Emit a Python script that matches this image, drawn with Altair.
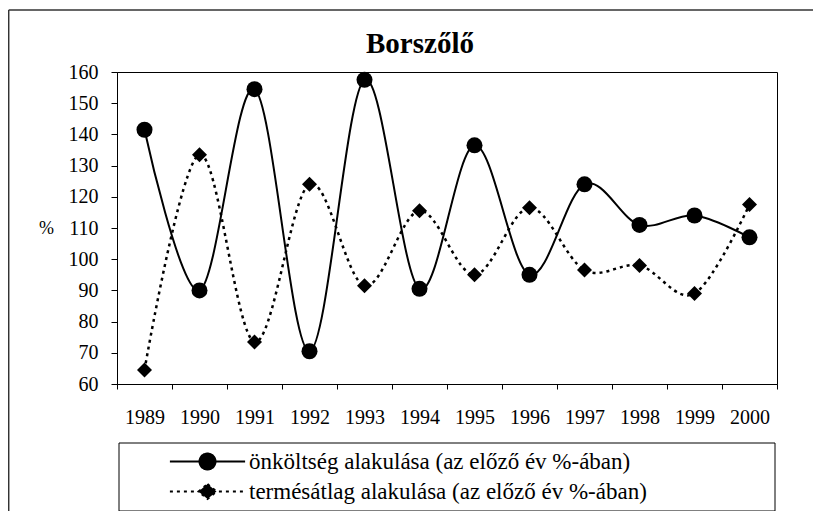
import altair as alt
import pandas as pd

years = ["1989", "1990", "1991", "1992", "1993", "1994", "1995", "1996", "1997", "1998", "1999", "2000"]
onkoltseg = [141.5, 90, 154.5, 70.5, 157.5, 90.5, 136.5, 95, 124, 111, 114, 107]
termesatlag = [64.5, 133.5, 73.5, 124, 91.5, 115.5, 95, 116.5, 96.5, 98, 89, 117.5]
series_names = [
    "önköltség alakulása (az előző év %-ában)",
    "termésátlag alakulása (az előző év %-ában)",
]
y_ticks = [60, 70, 80, 90, 100, 110, 120, 130, 140, 150, 160]

df = pd.DataFrame({
    "year": years * 2,
    "value": onkoltseg + termesatlag,
    "series": [series_names[0]] * len(years) + [series_names[1]] * len(years),
})
one = pd.DataFrame({"a": [0]})

FONT = "Liberation Serif, Times New Roman, serif"

x = alt.X(
    "year:O",
    bandPosition=0.5,
    scale=alt.Scale(type="band", paddingInner=0, paddingOuter=0),
    axis=alt.Axis(title=None, labelAngle=0, tickBand="extent", tickSize=5,
                  labelPadding=18, labelFont=FONT, labelFontSize=20),
)
y = alt.Y(
    "value:Q",
    scale=alt.Scale(domain=[60, 160], nice=False, zero=False),
    axis=alt.Axis(values=y_ticks, title="%", titleAngle=0, titleX=-71, titleY=156,
                  titleAlign="center", titleBaseline="middle", titleFont=FONT,
                  titleFontSize=18, titleFontWeight="normal", titleColor="black",
                  tickSize=6, labelPadding=13, labelFont=FONT, labelFontSize=20),
)

base = alt.Chart(df)
s1 = alt.datum.series == series_names[0]
s2 = alt.datum.series == series_names[1]

line1 = base.transform_filter(s1).mark_line(
    interpolate="cardinal", color="black", strokeWidth=2).encode(x=x, y=y)
line2 = base.transform_filter(s2).mark_line(
    interpolate="cardinal", color="black", strokeWidth=2.5, strokeDash=[3, 4]).encode(x=x, y=y)
pts1 = base.transform_filter(s1).mark_point(
    shape="circle", filled=True, color="black", size=256, opacity=1).encode(x=x, y=y)
pts2 = base.transform_filter(s2).mark_point(
    shape="diamond", filled=True, color="black", size=225, opacity=1).encode(x=x, y=y)

circle_path = "M-4.7,0L4.7,0M1,0A1,1,0,1,1,-1,0A1,1,0,1,1,1,0Z"
diamond_path = "M-4.7,0L4.7,0M0,-0.94L1.125,0L0,0.94L-1.125,0Z"

leg = alt.Legend(title=None, orient="none", legendX=79, legendY=378, direction="vertical",
                 symbolSize=256, symbolStrokeWidth=2,
                 labelFont=FONT, labelFontSize=23,
                 labelColor="black", labelOffset=30, rowPadding=5, padding=0, labelLimit=700)

legend_layer = base.transform_filter("false").mark_point(
    filled=False, fill="black", stroke="black", strokeWidth=2, opacity=1).encode(
    x=x, y=y,
    shape=alt.Shape("series:N", scale=alt.Scale(domain=series_names, range=[circle_path, diamond_path]), legend=leg),
    strokeDash=alt.StrokeDash("series:N", scale=alt.Scale(domain=series_names, range=[[1, 0], [3, 4]]), legend=leg),
)

legend_box = alt.Chart(one).mark_rect(fill="white", fillOpacity=0, stroke="black", strokeWidth=1).encode(
    x=alt.value(2), x2=alt.value(658), y=alt.value(371), y2=alt.value(439))
frame_top = alt.Chart(one).mark_rule(color="#333333", strokeWidth=1.5).encode(
    x=alt.value(-108.3), x2=alt.value(700), y=alt.value(-62))
frame_left = alt.Chart(one).mark_rule(color="#333333", strokeWidth=1.5).encode(
    x=alt.value(-108.3), y=alt.value(-62), y2=alt.value(450))

chart = alt.layer(
    frame_top, frame_left, legend_box, line2, line1, pts2, pts1, legend_layer
).properties(
    width=660, height=312,
    padding={"left": 109, "top": 64, "right": 36, "bottom": 127},
    autosize=alt.AutoSizeParams(type="none"),
    title=alt.TitleParams("Borszőlő", font=FONT, fontSize=29, fontWeight="bold", color="black",
                          anchor="middle", frame="group", dx=-27, offset=-73, baseline="alphabetic"),
).configure_view(stroke="black", strokeWidth=1).configure_axis(
    grid=False, domainColor="black", tickColor="black", labelColor="black")

chart.save("out.html", embed_options={"renderer": "svg", "actions": False})
